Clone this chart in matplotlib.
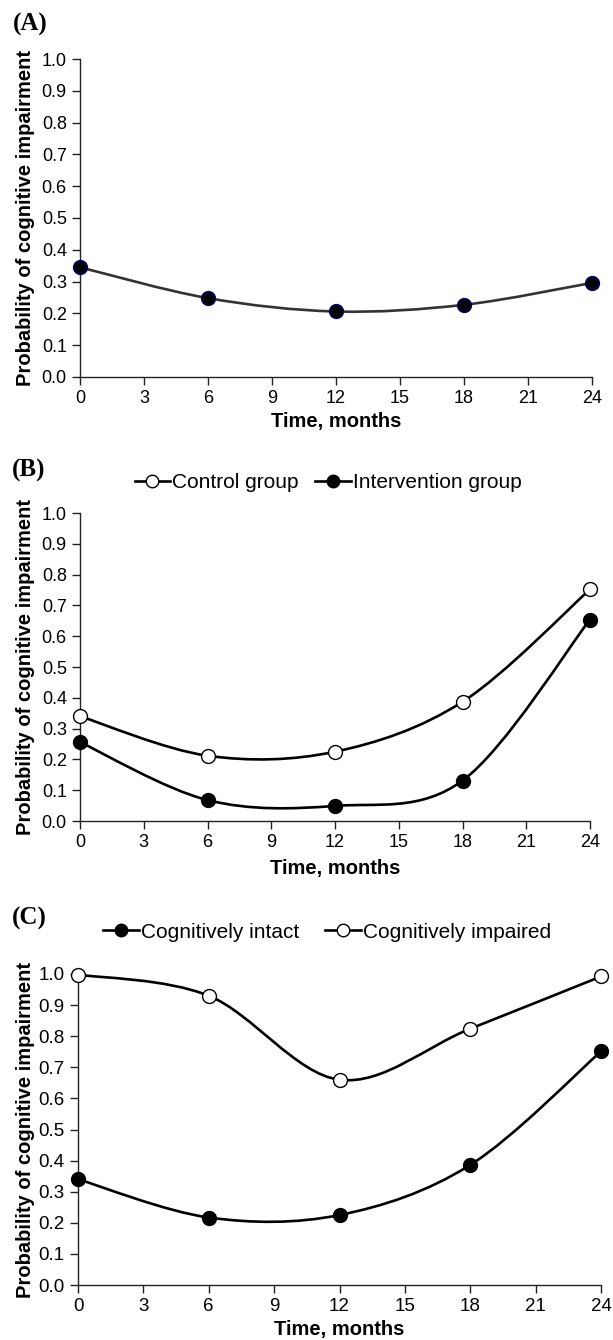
import numpy as np
import matplotlib
matplotlib.use("Agg")
import matplotlib.pyplot as plt
from matplotlib.path import Path
from matplotlib.patches import PathPatch
from matplotlib.lines import Line2D

plt.rcParams["font.family"] = ["Liberation Sans", "DejaVu Sans"]

# Data
months = [0, 6, 12, 18, 24]

overall = [0.345, 0.248, 0.206, 0.227, 0.296]

control = [0.340, 0.212, 0.225, 0.387, 0.752]
intervention = [0.256, 0.068, 0.049, 0.131, 0.654]

intact = [0.340, 0.217, 0.225, 0.386, 0.751]
impaired = [0.998, 0.930, 0.660, 0.824, 0.992]

x_ticks = [0, 3, 6, 9, 12, 15, 18, 21, 24]
y_ticks = [0.0, 0.1, 0.2, 0.3, 0.4, 0.5, 0.6, 0.7, 0.8, 0.9, 1.0]

W, H = 613, 1340
fig = plt.figure(figsize=(W / 100, H / 100), dpi=100)


def px_axes(left, right, top, bottom):
    return fig.add_axes([left / W, 1 - bottom / H, (right - left) / W, (bottom - top) / H])


def smooth_path(x, y):
    # excel-like smoothed line (catmull-rom as cubic bezier)
    pts = np.column_stack([x, y]).astype(float)
    n = len(pts)
    verts = [pts[0]]
    codes = [Path.MOVETO]
    for i in range(n - 1):
        p0 = pts[max(i - 1, 0)]
        p1 = pts[i]
        p2 = pts[i + 1]
        p3 = pts[min(i + 2, n - 1)]
        verts += [p1 + (p2 - p0) / 6, p2 - (p3 - p1) / 6, p2]
        codes += [Path.CURVE4] * 3
    return Path(verts, codes)


def setup(ax, tick_size, px_left, px_right, px_top, px_bottom, ylab_x, xlab_top):
    ax.set_xlim(0, 24)
    ax.set_ylim(0, 1)
    ax.set_xticks(x_ticks)
    ax.set_yticks(y_ticks)
    ax.set_yticklabels([f"{v:.1f}" for v in y_ticks])
    for s in ["top", "right"]:
        ax.spines[s].set_visible(False)
    for s in ["left", "bottom"]:
        ax.spines[s].set_linewidth(1.0)
        ax.spines[s].set_color("#222222")
    ax.tick_params(direction="out", length=5.5, width=1.0, labelsize=tick_size, pad=4, colors="#222222")
    ax.tick_params(labelcolor="black")
    ax.set_ylabel("Probability of cognitive impairment", fontsize=14.5, fontweight="bold")
    ax.set_xlabel("Time, months", fontsize=14.5, fontweight="bold")
    w = px_right - px_left
    h = px_bottom - px_top
    ax.yaxis.set_label_coords((ylab_x - px_left) / w, 0.5)
    ax.xaxis.set_label_coords(0.5, -(xlab_top - px_bottom) / h)


def draw(ax, y, face, line_color="black", edge="black"):
    ax.add_patch(PathPatch(smooth_path(months, y), facecolor="none",
                           edgecolor=line_color, lw=1.9, zorder=2))
    ax.plot(months, y, linestyle="none", marker="o", markersize=10,
            markerfacecolor=face, markeredgecolor=edge, markeredgewidth=1.0,
            zorder=3, clip_on=False)


def handle(face, label):
    return Line2D([], [], color="black", lw=1.9, marker="o", markersize=9,
                  markerfacecolor=face, markeredgecolor="black", label=label)


# (A) overall
axA = px_axes(80, 592, 59, 377)
setup(axA, 13, 80, 592, 59, 377, 35, 412)
draw(axA, overall, "black", line_color="#333333", edge="#000070")
fig.text(13 / W, 1 - 24 / H, "(A)", family="Liberation Serif", fontweight="bold",
         fontsize=18, va="center", ha="left")

# (B) control vs intervention
axB = px_axes(80, 590, 513, 821)
setup(axB, 13, 80, 590, 513, 821, 35, 859)
draw(axB, control, "white")
draw(axB, intervention, "black")
fig.text(12 / W, 1 - 470 / H, "(B)", family="Liberation Serif", fontweight="bold",
         fontsize=18, va="center", ha="left")
fig.legend(handles=[handle("white", "Control group"), handle("black", "Intervention group")],
           loc="center", bbox_to_anchor=(328 / W, 1 - 483 / H), ncol=2, frameon=False,
           fontsize=15, handlelength=1.7, handletextpad=0.1, columnspacing=0.8,
           borderpad=0, borderaxespad=0)

# (C) intact vs impaired
axC = px_axes(78, 601, 974, 1285)
setup(axC, 13.5, 78, 601, 974, 1285, 35, 1320)
draw(axC, impaired, "white")
draw(axC, intact, "black")
fig.text(12 / W, 1 - 918 / H, "(C)", family="Liberation Serif", fontweight="bold",
         fontsize=18, va="center", ha="left")
fig.legend(handles=[handle("black", "Cognitively intact"), handle("white", "Cognitively impaired")],
           loc="center", bbox_to_anchor=(327 / W, 1 - 932 / H), ncol=2, frameon=False,
           fontsize=15, handlelength=1.7, handletextpad=0.1, columnspacing=1.25,
           borderpad=0, borderaxespad=0)

fig.savefig("out.png", dpi=100)
